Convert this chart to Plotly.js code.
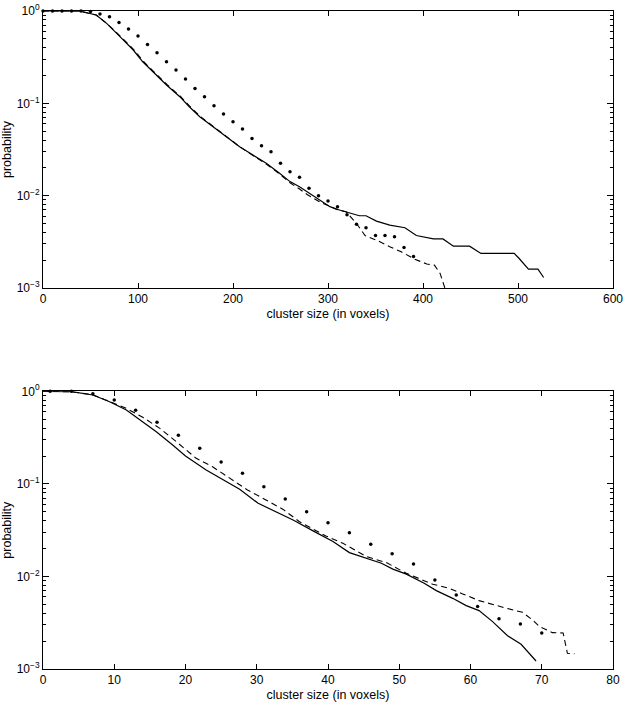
<!DOCTYPE html>
<html>
<head>
<meta charset="utf-8">
<script src="https://cdn.plot.ly/plotly-3.0.1.min.js"></script>
<style>
html,body{margin:0;padding:0;background:#fff;}
#chart{width:625px;height:703px;}
</style>
</head>
<body>
<div id="chart"></div>
<script>
// ---- Top panel (cluster size 0..600) ----
const topSolidX = [0, 38, 56, 67, 81, 95, 105, 119, 130, 144, 154, 165, 179, 193, 207, 221, 235, 249, 260, 270, 281, 291, 302, 312, 323, 333, 340, 351, 365, 381, 393, 411, 421, 432, 449, 461, 496, 501, 511, 521, 527];
const topSolidY = [1, 1, 0.905, 0.735, 0.527, 0.378, 0.282, 0.203, 0.158, 0.118, 0.0918, 0.0716, 0.0558, 0.0435, 0.0339, 0.0275, 0.0224, 0.0175, 0.0142, 0.0125, 0.0106, 0.009, 0.0076, 0.007, 0.00645, 0.00606, 0.00606, 0.0053, 0.0048, 0.0045, 0.0037, 0.0034, 0.0034, 0.00284, 0.00284, 0.00237, 0.00237, 0.0021, 0.0016, 0.0016, 0.0013];

const topDashX = [0, 38, 56, 67, 82, 96, 106, 120, 131, 145, 155, 166, 180, 193, 207, 221, 235, 249, 260, 270, 278, 291, 309, 319, 330, 339, 351, 365, 377, 391, 404, 412, 418, 423];
const topDashY = [1, 1, 0.905, 0.735, 0.527, 0.378, 0.282, 0.203, 0.158, 0.118, 0.0918, 0.0716, 0.0558, 0.0435, 0.0339, 0.0272, 0.022, 0.0172, 0.0138, 0.0118, 0.0103, 0.0086, 0.0071, 0.0067, 0.005, 0.0037, 0.0033, 0.0028, 0.00247, 0.00206, 0.00182, 0.00177, 0.00144, 0.001];

const topDotX = [0, 10, 20, 30, 40, 50, 60, 70, 80, 90, 100, 110, 120, 130, 140, 150, 160, 170, 180, 190, 200, 210, 220, 230, 240, 250, 260, 270, 280, 290, 300, 310, 320, 330, 340, 350, 360, 370, 380, 390];
const topDotY = [1, 1, 1, 1, 1, 0.985, 0.93, 0.868, 0.753, 0.638, 0.536, 0.435, 0.354, 0.282, 0.23, 0.183, 0.145, 0.118, 0.094, 0.0766, 0.0632, 0.0527, 0.0417, 0.0347, 0.0299, 0.0225, 0.0182, 0.0158, 0.012, 0.010, 0.00875, 0.0076, 0.0062, 0.0049, 0.0045, 0.0037, 0.0037, 0.0036, 0.00275, 0.0022];

// ---- Bottom panel (cluster size 0..80) ----
const botSolidX = [0, 4, 7, 9.35, 11.7, 13.6, 15.9, 18.2, 20, 22.9, 25.3, 27.6, 30.2, 32.7, 35.1, 38.1, 40.7, 43.0, 45.4, 47.5, 49.1, 51.0, 53.5, 55.2, 57.5, 59.4, 61.2, 63.1, 65.2, 67.1, 69.2];
const botSolidY = [1, 0.99, 0.912, 0.772, 0.628, 0.49, 0.366, 0.263, 0.2, 0.141, 0.110, 0.0875, 0.0617, 0.050, 0.0407, 0.0305, 0.0238, 0.0181, 0.0158, 0.0139, 0.0120, 0.0106, 0.00845, 0.00703, 0.0058, 0.00484, 0.00427, 0.00325, 0.00229, 0.00185, 0.00122];

const botDashX = [0, 4, 7, 9.35, 11.7, 14.0, 16.4, 18.7, 21.5, 23.8, 26.2, 28.7, 31.3, 33.7, 36.0, 37.9, 39.7, 42.1, 45.4, 48.2, 51.0, 54.7, 57.0, 58.9, 61.2, 65.0, 67.3, 68.7, 69.7, 71.5, 73.0, 73.6, 74.6];
const botDashY = [1, 0.99, 0.915, 0.78, 0.655, 0.524, 0.398, 0.286, 0.189, 0.153, 0.115, 0.086, 0.067, 0.053, 0.039, 0.0323, 0.0274, 0.0228, 0.0164, 0.0141, 0.0108, 0.00824, 0.00746, 0.00648, 0.00548, 0.00454, 0.0041, 0.00339, 0.00287, 0.00247, 0.00245, 0.00148, 0.00146];

const botDotX = [1, 4, 7, 10, 13, 16, 19, 22, 25, 28, 31, 34, 37, 40, 43, 46, 49, 52, 55, 58, 61, 64, 67, 70];
const botDotY = [1, 1, 0.94, 0.805, 0.624, 0.462, 0.335, 0.242, 0.172, 0.13, 0.0933, 0.0687, 0.0501, 0.0381, 0.0297, 0.0223, 0.0176, 0.0136, 0.00917, 0.00631, 0.00472, 0.0035, 0.00307, 0.00245];

const yTickVals = [0.001, 0.01, 0.1, 1];
const yTickText = ['10<sup>\u22123</sup>', '10<sup>\u22122</sup>', '10<sup>\u22121</sup>', '10<sup>0</sup>'];
const xTickTop = [0, 100, 200, 300, 400, 500, 600];
const xTickBot = [0, 10, 20, 30, 40, 50, 60, 70, 80];

const minorVals = [];
[0.001, 0.01, 0.1].forEach(d => { for (let k = 2; k <= 9; k++) minorVals.push(d * k); });

const lineStyle = {color: '#000', width: 1.2};
const traces = [
  {x: topSolidX, y: topSolidY, xaxis: 'x', yaxis: 'y', mode: 'lines', line: lineStyle},
  {x: topDashX, y: topDashY, xaxis: 'x', yaxis: 'y', mode: 'lines', line: {color: '#000', width: 1.1, dash: '6px,4px'}},
  {x: topDotX, y: topDotY, xaxis: 'x', yaxis: 'y', mode: 'markers', cliponaxis: false, marker: {color: '#000', size: 3.5}},
  {x: botSolidX, y: botSolidY, xaxis: 'x2', yaxis: 'y2', mode: 'lines', line: lineStyle},
  {x: botDashX, y: botDashY, xaxis: 'x2', yaxis: 'y2', mode: 'lines', line: {color: '#000', width: 1.1, dash: '6px,4px'}},
  {x: botDotX, y: botDotY, xaxis: 'x2', yaxis: 'y2', mode: 'markers', cliponaxis: false, marker: {color: '#000', size: 3.5}}
];

const font = {family: 'Liberation Sans, Arial, sans-serif', size: 12, color: '#000'};
const titleFont = {family: 'Liberation Sans, Arial, sans-serif', size: 12.5, color: '#000'};
function xAxis(range, ticks, anchor) {
  return {
    range: range, tickmode: 'array', tickvals: ticks, ticks: 'inside', ticklen: 5, tickcolor: '#000',
    showline: true, linecolor: '#000', linewidth: 1, mirror: 'allticks', showgrid: false, zeroline: false,
    anchor: anchor, tickfont: font,
    title: {text: 'cluster size (in voxels)', font: titleFont, standoff: 3}
  };
}
function yAxis(domain, anchor) {
  return {
    type: 'log', range: [-3, 0], domain: domain, anchor: anchor,
    tickmode: 'array', tickvals: yTickVals, ticktext: yTickText,
    ticks: 'inside', ticklen: 6, tickcolor: '#000',
    minor: {tickmode: 'array', tickvals: minorVals, ticks: 'inside', ticklen: 3, tickcolor: '#000', showgrid: false},
    showline: true, linecolor: '#000', linewidth: 1, mirror: 'allticks', showgrid: false, zeroline: false,
    tickfont: font,
    title: {text: 'probability', font: titleFont, standoff: 4}
  };
}

const layout = {
  width: 625, height: 703,
  margin: {l: 43, r: 12, t: 11, b: 34},
  paper_bgcolor: '#fff', plot_bgcolor: '#fff',
  showlegend: false,
  font: font,
  xaxis: xAxis([0, 600], xTickTop, 'y'),
  yaxis: yAxis([0.579, 1], 'x'),
  xaxis2: xAxis([0, 80], xTickBot, 'y2'),
  yaxis2: yAxis([0, 0.422], 'x2')
};

Plotly.newPlot('chart', traces, layout, {staticPlot: true, displayModeBar: false});
</script>
</body>
</html>
